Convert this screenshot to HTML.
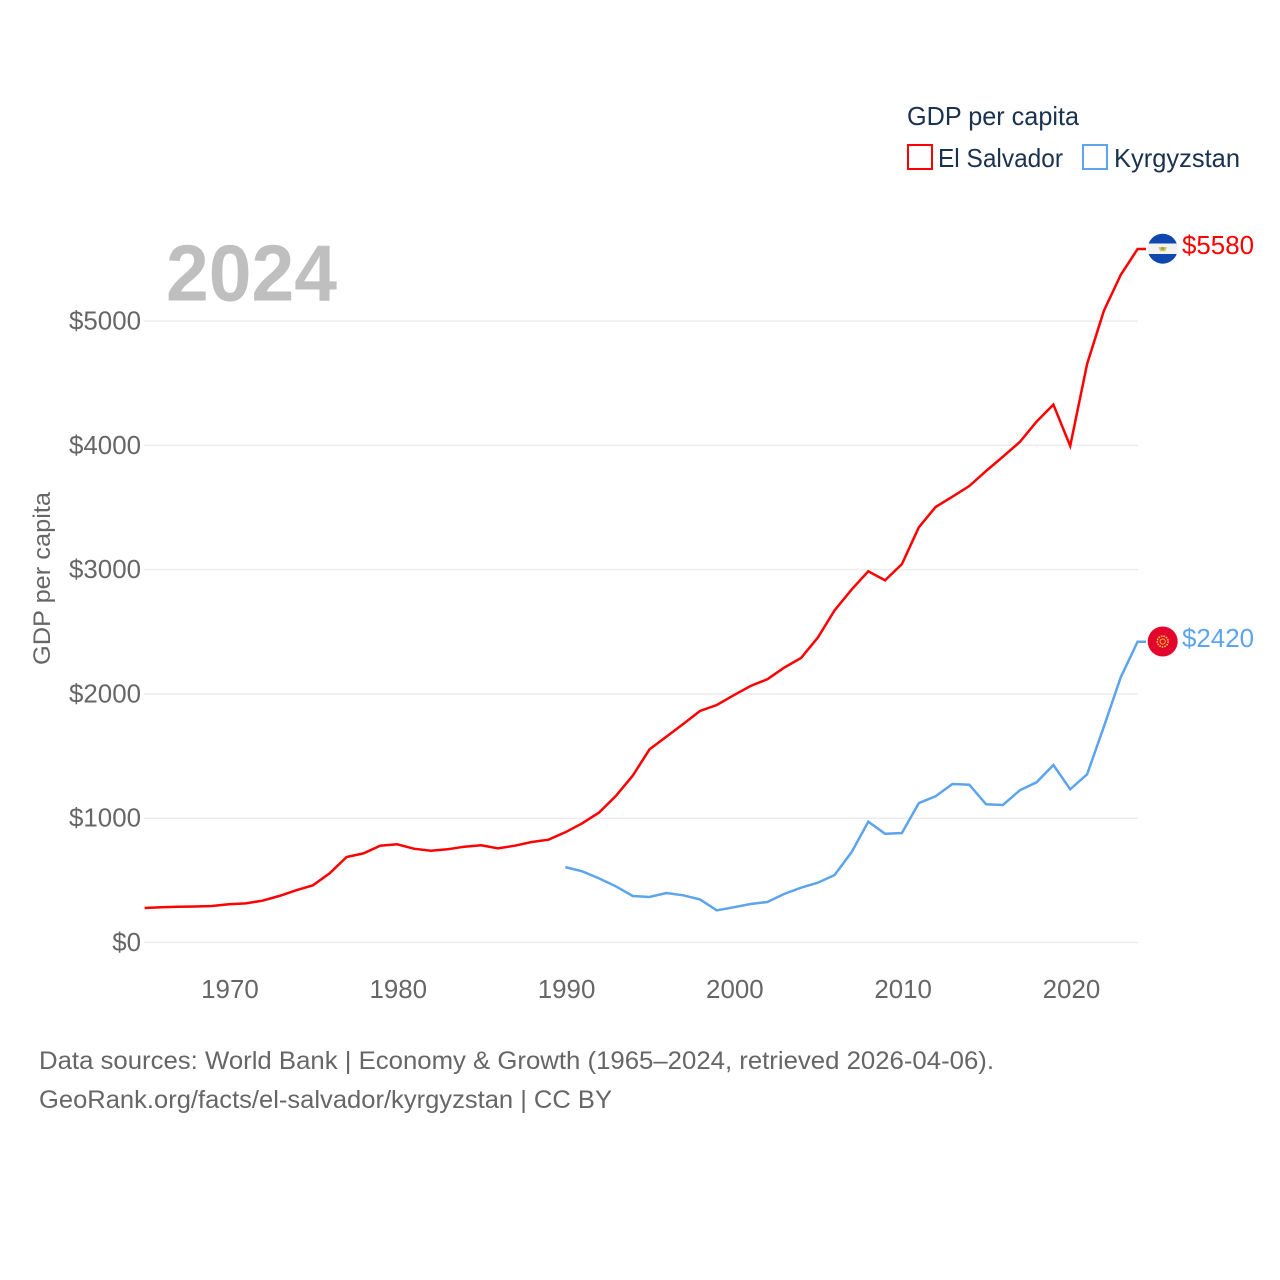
<!DOCTYPE html>
<html lang="en">
<head>
<meta charset="utf-8">
<title>GDP per capita: El Salvador and Kyrgyzstan</title>
<style>
html,body{margin:0;padding:0;background:#fff;width:1280px;height:1280px;overflow:hidden}
svg{display:block}
text{font-family:"Liberation Sans",sans-serif}
</style>
</head>
<body>
<svg id="chart" xmlns="http://www.w3.org/2000/svg" width="1280" height="1280" viewBox="0 0 1280 1280">
  <g id="grid"></g>
  <g id="yticks"></g>
  <g id="xticks"></g>
  <text x="166" y="300.5" font-size="80" font-weight="700" fill="#bfbfbf" textLength="171" lengthAdjust="spacingAndGlyphs">2024</text>
  <text transform="translate(50,665) rotate(-90)" font-size="24" fill="#666" textLength="173" lengthAdjust="spacingAndGlyphs">GDP per capita</text>
  <g id="series"></g>

  <g>
    <clipPath id="clipSv"><circle cx="1162.7" cy="248.7" r="15"/></clipPath>
    <g clip-path="url(#clipSv)">
      <rect x="1147" y="233" width="32" height="32" fill="#f2f2f2"/>
      <rect x="1147" y="233" width="32" height="10.5" fill="#0f47af"/>
      <rect x="1147" y="254" width="32" height="11" fill="#0f47af"/>
      <path d="M1158.5 247h8.4l-1.6 4.2h-5.2z" fill="#d9c45a"/>
      <circle cx="1162.7" cy="248.5" r="1.6" fill="#8fa94f"/>
    </g>
  </g>
  <g>
    <circle cx="1162.7" cy="641.5" r="15" fill="#e2062c"/>
    <circle cx="1162.7" cy="641.5" r="5.4" fill="none" stroke="#ffd23f" stroke-width="1.5" stroke-dasharray="1.6 1"/>
    <circle cx="1162.7" cy="641.5" r="2.6" fill="none" stroke="#ffb52e" stroke-width="1"/>
  </g>

  <g>
    <text x="907" y="125" font-size="26" fill="#1a3150" textLength="172" lengthAdjust="spacingAndGlyphs">GDP per capita</text>
    <rect x="908" y="145" width="24" height="24" fill="#fff" stroke="#ff0000" stroke-width="2"/>
    <text x="938" y="167" font-size="26" fill="#1a3150" textLength="125" lengthAdjust="spacingAndGlyphs">El Salvador</text>
    <rect x="1083" y="145" width="24" height="24" fill="#fff" stroke="#5ca4ee" stroke-width="2"/>
    <text x="1114" y="167" font-size="26" fill="#1a3150" textLength="126" lengthAdjust="spacingAndGlyphs">Kyrgyzstan</text>
  </g>

  <g>
    <text x="39" y="1069" font-size="25" fill="#666" textLength="955" lengthAdjust="spacingAndGlyphs">Data sources: World Bank | Economy &amp; Growth (1965–2024, retrieved 2026-04-06).</text>
    <text x="39" y="1108" font-size="25" fill="#666" textLength="573" lengthAdjust="spacingAndGlyphs">GeoRank.org/facts/el-salvador/kyrgyzstan | CC BY</text>
  </g>
</svg>
<script>
const yearsStart = 1965;
const elSalvadorValues = [278,283,288,290,294,307,315,336,374,420,460,557,688,717,779,790,755,739,750,771,782,758,779,809,827,887,959,1045,1179,1342,1554,1656,1758,1863,1911,1989,2064,2118,2211,2289,2453,2673,2839,2987,2914,3045,3341,3504,3587,3673,3794,3909,4027,4191,4328,3995,4655,5084,5371,5580];
const kyrgyzstanStart = 1990;
const kyrgyzstanValues = [607,573,516,452,374,366,398,380,347,259,283,310,326,390,441,481,543,726,972,875,881,1122,1176,1275,1270,1112,1106,1225,1289,1428,1233,1353,1736,2134,2420];
const yTickValues = [0,1000,2000,3000,4000,5000];
const xTickValues = [1970,1980,1990,2000,2010,2020];

const NS = 'http://www.w3.org/2000/svg';
const xOf = function (year) { return 144.6 + (year - 1965) * 16.83; };
const yOf = function (value) { return 942.5 - value * 0.12428; };
const labelWidth = function (str) { return str.length * 14.4; };

const gridG = document.getElementById('grid');
const yG = document.getElementById('yticks');
const xG = document.getElementById('xticks');
const seriesG = document.getElementById('series');

yTickValues.forEach(function (v) {
  const line = document.createElementNS(NS, 'line');
  
  
  line.setAttribute('x1', 144);
  line.setAttribute('x2', 1138);
  line.setAttribute('y1', yOf(v));
  line.setAttribute('y2', yOf(v));
  line.setAttribute('stroke', '#ececec');
  line.setAttribute('stroke-width', 1.5);
  gridG.appendChild(line);

  const str = '$' + v;
  const t = document.createElementNS(NS, 'text');
  
  
  t.setAttribute('x', 141 - labelWidth(str));
  t.setAttribute('y', yOf(v) + 8.5);
  t.setAttribute('font-size', 26);
  t.setAttribute('fill', '#666');
  t.setAttribute('textLength', labelWidth(str));
  t.setAttribute('lengthAdjust', 'spacingAndGlyphs');
  t.textContent = str;
  yG.appendChild(t);
});

xTickValues.forEach(function (year) {
  const str = String(year);
  const t = document.createElementNS(NS, 'text');
  
  
  t.setAttribute('x', xOf(year) + 1.2 - labelWidth(str) / 2);
  t.setAttribute('y', 998);
  t.setAttribute('font-size', 26);
  t.setAttribute('fill', '#666');
  t.setAttribute('textLength', labelWidth(str));
  t.setAttribute('lengthAdjust', 'spacingAndGlyphs');
  t.textContent = str;
  xG.appendChild(t);
});

const buildPoints = function (start, values) {
  const pts = values.map(function (v, i) { return xOf(start + i).toFixed(1) + ',' + yOf(v).toFixed(1); });
  const lastY = yOf(values[values.length - 1]).toFixed(1);
  pts.push('1146,' + lastY);
  return pts.join(' ');
};

const redLine = document.createElementNS(NS, 'polyline');


redLine.setAttribute('points', buildPoints(yearsStart, elSalvadorValues));
redLine.setAttribute('fill', 'none');
redLine.setAttribute('stroke', '#ff0000');
redLine.setAttribute('stroke-width', 2.5);
seriesG.appendChild(redLine);

const blueLine = document.createElementNS(NS, 'polyline');


blueLine.setAttribute('points', buildPoints(kyrgyzstanStart, kyrgyzstanValues));
blueLine.setAttribute('fill', 'none');
blueLine.setAttribute('stroke', '#5ca4ee');
blueLine.setAttribute('stroke-width', 2.5);
seriesG.appendChild(blueLine);

const svg = document.getElementById('chart');
const redVal = elSalvadorValues[elSalvadorValues.length - 1];
const redLabel = document.createElementNS(NS, 'text');


redLabel.setAttribute('x', 1182);
redLabel.setAttribute('y', yOf(redVal) + 5);
redLabel.setAttribute('font-size', 26);
redLabel.setAttribute('fill', '#ff0000');
redLabel.setAttribute('textLength', 72);
redLabel.setAttribute('lengthAdjust', 'spacingAndGlyphs');
redLabel.textContent = '$' + redVal;
svg.appendChild(redLabel);

const blueVal = kyrgyzstanValues[kyrgyzstanValues.length - 1];
const blueLabel = document.createElementNS(NS, 'text');


blueLabel.setAttribute('x', 1182);
blueLabel.setAttribute('y', yOf(blueVal) + 5.5);
blueLabel.setAttribute('font-size', 26);
blueLabel.setAttribute('fill', '#5ca4ee');
blueLabel.setAttribute('textLength', 72);
blueLabel.setAttribute('lengthAdjust', 'spacingAndGlyphs');
blueLabel.textContent = '$' + blueVal;
svg.appendChild(blueLabel);
</script>
</body>
</html>
